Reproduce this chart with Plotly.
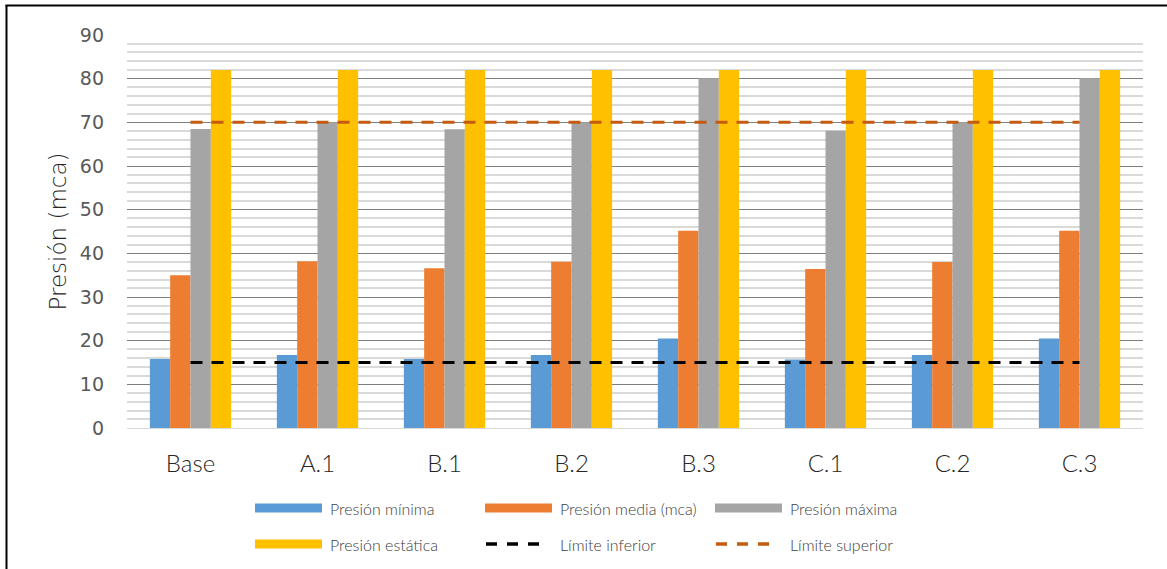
import plotly.graph_objects as go

# Escenarios y presiones (mca)
escenarios = ["Base", "A.1", "B.1", "B.2", "B.3", "C.1", "C.2", "C.3"]
presion_minima = [15.8, 16.7, 15.8, 16.7, 20.5, 15.7, 16.7, 20.5]
presion_media = [35.0, 38.2, 36.6, 38.1, 45.2, 36.4, 38.0, 45.2]
presion_maxima = [68.5, 70.0, 68.4, 70.0, 80.1, 68.1, 70.0, 80.1]
presion_estatica = [82, 82, 82, 82, 82, 82, 82, 82]
limite_inferior = [15] * len(escenarios)
limite_superior = [70] * len(escenarios)

c_min, c_med, c_max, c_est = "#5B9BD5", "#ED7D31", "#A5A5A5", "#FFC000"
c_inf, c_sup = "#000000", "#C55A11"

W, H = 1167, 569
L, R, T, B = 127, 24, 35, 141
PW, PH = W - L - R, H - T - B

fig = go.Figure()
for nombre, vals, col in [
    ("Presión mínima", presion_minima, c_min),
    ("Presión media (mca)", presion_media, c_med),
    ("Presión máxima", presion_maxima, c_max),
    ("Presión estática", presion_estatica, c_est),
]:
    fig.add_trace(go.Bar(x=escenarios, y=vals, name=nombre, marker_color=col,
                         marker_line_width=0))

fig.add_trace(go.Scatter(x=escenarios, y=limite_inferior, mode="lines",
                         name="Límite inferior",
                         line=dict(color=c_inf, width=3, dash="12px,9px")))
fig.add_trace(go.Scatter(x=escenarios, y=limite_superior, mode="lines",
                         name="Límite superior",
                         line=dict(color=c_sup, width=3, dash="12px,9px")))

fig.update_layout(
    width=W, height=H,
    margin=dict(l=L, r=R, t=T, b=B),
    paper_bgcolor="white", plot_bgcolor="white",
    barmode="group", bargap=0.36, bargroupgap=0,
    showlegend=False,
    font=dict(family="Open Sans", color="#595959"),
)
fig.update_xaxes(
    showgrid=False, showline=True, linecolor="#D9D9D9", linewidth=1,
    ticks="", tickfont=dict(family="Lato", size=24, weight=300, color="#262626"),
    ticklabelstandoff=14,
)
fig.update_yaxes(
    range=[0, 90], dtick=10, showgrid=True, gridcolor="#7F7F7F", gridwidth=1,
    zeroline=False, showline=False, ticks="",
    tickfont=dict(family="DejaVu Sans", size=19, color="#595959"),
    ticklabelstandoff=22,
    minor=dict(dtick=2, showgrid=True, gridcolor="#D9D9D9", gridwidth=2),
    title=dict(text="Presión (mca)",
               font=dict(family="DejaVu Sans ExtraLight, DejaVu Sans", size=23,
                         weight=300, color="#262626"),
               standoff=6),
)

# Marco exterior del gráfico
def px_x(p):
    return (p - L) / PW

def px_y(p):
    return 1 - (p - T) / PH

fig.add_shape(type="line", xref="paper", yref="paper",
              x0=px_x(6.5), x1=px_x(6.5), y0=px_y(5), y1=px_y(600),
              line=dict(color="black", width=2))
fig.add_shape(type="line", xref="paper", yref="paper",
              x0=px_x(5.5), x1=px_x(1200), y0=px_y(5.5), y1=px_y(5.5),
              line=dict(color="black", width=2))

# Leyenda en dos filas y tres columnas
leyenda = [
    ("Presión mínima", c_min, "bar", 255, 508),
    ("Presión media (mca)", c_med, "bar", 485, 508),
    ("Presión máxima", c_max, "bar", 715, 508),
    ("Presión estática", c_est, "bar", 255, 544),
    ("Límite inferior", c_inf, "dash", 485, 544),
    ("Límite superior", c_sup, "dash", 715, 544),
]
for texto, col, tipo, x0, y0 in leyenda:
    if tipo == "bar":
        fig.add_shape(type="rect", xref="paper", yref="paper",
                      x0=px_x(x0), x1=px_x(x0 + 67), y0=px_y(y0 - 4.5), y1=px_y(y0 + 4.5),
                      fillcolor=col, line_width=0)
    else:
        fig.add_shape(type="line", xref="paper", yref="paper",
                      x0=px_x(x0 + 1), x1=px_x(x0 + 57), y0=px_y(y0), y1=px_y(y0),
                      line=dict(color=col, width=3.5, dash="11px,10px"))
    fig.add_annotation(text=texto, xref="paper", yref="paper",
                       x=px_x(x0 + 73), y=px_y(y0), xanchor="left", yanchor="middle",
                       showarrow=False,
                       font=dict(family="Lato", size=16, weight=300, color="#404040"))

fig.write_html("out.html")
